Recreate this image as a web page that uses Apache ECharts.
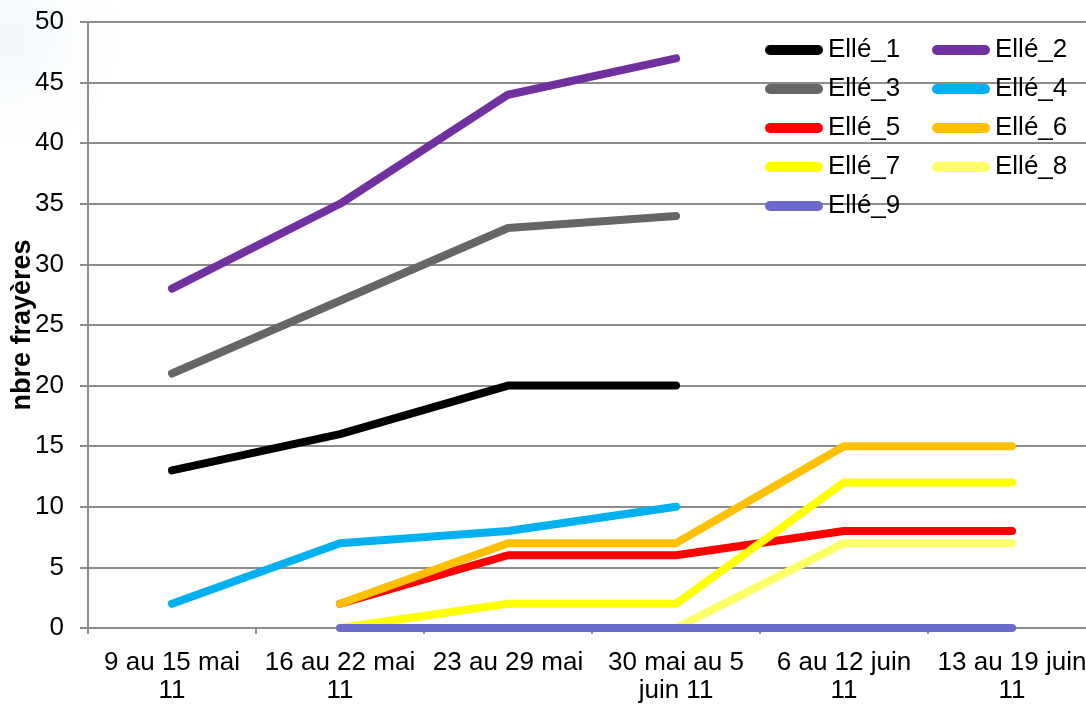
<!DOCTYPE html>
<html>
<head>
<meta charset="utf-8">
<script src="https://cdn.jsdelivr.net/npm/echarts@6/dist/echarts.min.js"></script>
<style>
html,body{margin:0;padding:0;background:#fff;}
#chart{width:1086px;height:704px;}
</style>
</head>
<body>
<div id="chart"></div>
<script>
const categories = ["9 au 15 mai\n11", "16 au 22 mai\n11", "23 au 29 mai", "30 mai au 5\njuin 11", "6 au 12 juin\n11", "13 au 19 juin\n11"];
const yTicks = [0, 5, 10, 15, 20, 25, 30, 35, 40, 45, 50];
const seriesNames = ["Ellé_1", "Ellé_2", "Ellé_3", "Ellé_4", "Ellé_5", "Ellé_6", "Ellé_7", "Ellé_8", "Ellé_9"];
const elle1 = [13, 16, 20, 20, null, null];
const elle2 = [28, 35, 44, 47, null, null];
const elle3 = [21, 27, 33, 34, null, null];
const elle4 = [2, 7, 8, 10, null, null];
const elle5 = [null, 2, 6, 6, 8, 8];
const elle6 = [null, 2, 7, 7, 15, 15];
const elle7 = [null, 0, 2, 2, 12, 12];
const elle8 = [null, null, null, 0, 7, 7];
const elle9 = [null, 0, 0, 0, 0, 0];
const seriesData = [elle1, elle2, elle3, elle4, elle5, elle6, elle7, elle8, elle9];
const colors = ["#000000", "#7030A0", "#666666", "#00B0F0", "#FF0000", "#FFC000", "#FFFF00", "#FFFF66", "#6B6BCC"];

const FONT = "'Liberation Sans', Arial, sans-serif";
const chart = echarts.init(document.getElementById('chart'));
const icon = 'path://M5,0 L53,0 A5,5 0 0 1 53,10 L5,10 A5,5 0 0 1 5,0 Z';
const legendCommon = {
  orient: 'vertical', top: 37, padding: 0, itemWidth: 58, itemHeight: 10, itemGap: 13,
  icon: icon, textStyle: { fontFamily: FONT, fontSize: 26, color: '#000' },
  selectedMode: false
};
chart.setOption({
  animation: false,
  backgroundColor: '#ffffff',
  color: colors,
  graphic: [{
    type: 'circle', silent: true, z: -10,
    shape: { cx: 10, cy: 40, r: 150 },
    style: {
      fill: {
        type: 'radial', x: 0.5, y: 0.5, r: 0.5,
        colorStops: [{ offset: 0, color: 'rgba(225,238,246,0.45)' }, { offset: 1, color: 'rgba(255,255,255,0)' }]
      }
    }
  }],
  grid: { left: 88, top: 22, bottom: 76, right: -10, containLabel: false, outerBoundsMode: 'none' },
  legend: [
    Object.assign({ left: 765, data: ["Ellé_1", "Ellé_3", "Ellé_5", "Ellé_7", "Ellé_9"] }, legendCommon),
    Object.assign({ left: 932, data: ["Ellé_2", "Ellé_4", "Ellé_6", "Ellé_8"] }, legendCommon)
  ],
  xAxis: {
    type: 'category', data: categories, boundaryGap: true,
    axisLine: { lineStyle: { color: '#8c8c8c', width: 2 } },
    axisTick: { show: true, length: 6, lineStyle: { color: '#8c8c8c', width: 2 } },
    axisLabel: { interval: 0, fontFamily: FONT, fontSize: 26, color: '#000', margin: 21, lineHeight: 28 }
  },
  yAxis: {
    type: 'value', min: yTicks[0], max: yTicks[yTicks.length - 1], interval: 5,
    name: 'nbre frayères', nameLocation: 'middle', nameRotate: 90, nameGap: 52,
    nameMoveOverlap: false,
    nameTextStyle: { fontFamily: FONT, fontSize: 27, fontWeight: 'bold', color: '#000' },
    axisLine: { show: true, lineStyle: { color: '#8c8c8c', width: 2 } },
    axisTick: { show: true, length: 8, lineStyle: { color: '#8c8c8c', width: 2 } },
    axisLabel: { fontFamily: FONT, fontSize: 26, color: '#000', margin: 24 },
    splitLine: { show: true, lineStyle: { color: '#8c8c8c', width: 2 } }
  },
  series: seriesNames.map((n, i) => ({
    name: n, type: 'line', data: seriesData[i], showSymbol: false, symbol: 'none',
    connectNulls: false,
    lineStyle: { width: 8, color: colors[i], cap: 'round', join: 'round' },
    itemStyle: { color: colors[i] },
    z: 2 + i
  }))
});
</script>
</body>
</html>
